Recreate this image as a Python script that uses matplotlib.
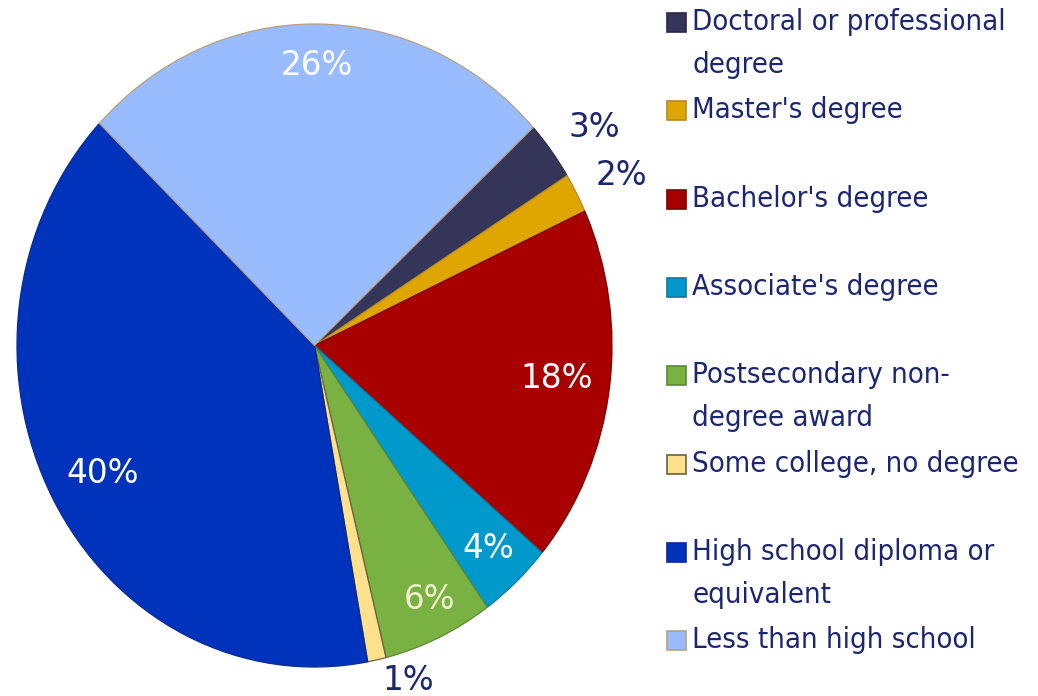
import matplotlib
matplotlib.use("Agg")
import matplotlib.pyplot as plt
from matplotlib.patches import Rectangle
from matplotlib import font_manager
import numpy as np

categories = ["Doctoral or professional\ndegree", "Master's degree", "Bachelor's degree",
              "Associate's degree", "Postsecondary non-\ndegree award",
              "Some college, no degree", "High school diploma or\nequivalent",
              "Less than high school"]
values = [3, 2, 18, 4, 6, 1, 40, 26]
colors = ["#35355A", "#E0A600", "#A80000", "#0099CC", "#79B142", "#FFE08C", "#0033BB", "#99BBFF"]
edge_colors = ["#2a2a40", "#b08a30", "#800000", "#0a7aa0", "#5a8a30", "#6a6040", "#0a2a90", "#b8a080"]
label_colors = ["#1C2670", "#1C2670", "white", "white", "#F0F0D0", "#1C2670", "white", "white"]
label_radius = [1.16, 1.16, 0.82, 0.86, 0.88, 1.09, 0.815, 0.87]
label_dangle = [-1.6, -1.1, 0.5, 0.0, 1.4, 4.7, 0.9, 0.0]

W, H = 1038, 696
fig = plt.figure(figsize=(W / 100, H / 100), dpi=100)
plt.rcParams['font.family'] = ['DejaVu Sans']

condensed = any('Condensed' in f.name or f.stretch == 'condensed' or
                (isinstance(f.stretch, int) and f.stretch < 500)
                for f in font_manager.fontManager.ttflist if f.name.startswith('DejaVu Sans'))
leg_stretch = 'condensed' if condensed else 'normal'
leg_size = 21 if condensed else 19

# pie occupies x 17..612, y 24..667 px (slightly taller than wide)
ax = fig.add_axes([17 / W, (H - 667) / H, 595 / W, 643 / H])
wedges, _ = ax.pie(values, colors=colors, startangle=42.7, counterclock=False,
                   radius=1.0, wedgeprops=dict(linewidth=0.9))
for w, ec in zip(wedges, edge_colors):
    w.set_edgecolor(ec)
ax.set_aspect('auto')
ax.set_xlim(-1.0, 1.0)
ax.set_ylim(-1.0, 1.0)
ax.axis('off')

for w, v, lc, r, da in zip(wedges, values, label_colors, label_radius, label_dangle):
    ang = np.deg2rad((w.theta1 + w.theta2) / 2 + da)
    ax.text(r * np.cos(ang), r * np.sin(ang), f"{v}%", color=lc, fontsize=23.5,
            ha='center', va='center', clip_on=False)

# legend (manual, Excel-like)
text_color = "#1C2670"
y0 = 22
step = 88.3
line_gap = 43
for i, (cat, c, ec) in enumerate(zip(categories, colors, edge_colors)):
    yc = y0 + i * step
    fig.patches.append(Rectangle((667 / W, (H - yc - 10) / H), 19 / W, 19 / H,
                                 transform=fig.transFigure, facecolor=c,
                                 edgecolor=ec, linewidth=1.2))
    for j, line in enumerate(cat.split("\n")):
        fig.text(692 / W, (H - (yc + j * line_gap)) / H, line, color=text_color,
                 fontsize=leg_size, fontstretch=leg_stretch, ha='left', va='center')

fig.savefig("out.png", dpi=100)
